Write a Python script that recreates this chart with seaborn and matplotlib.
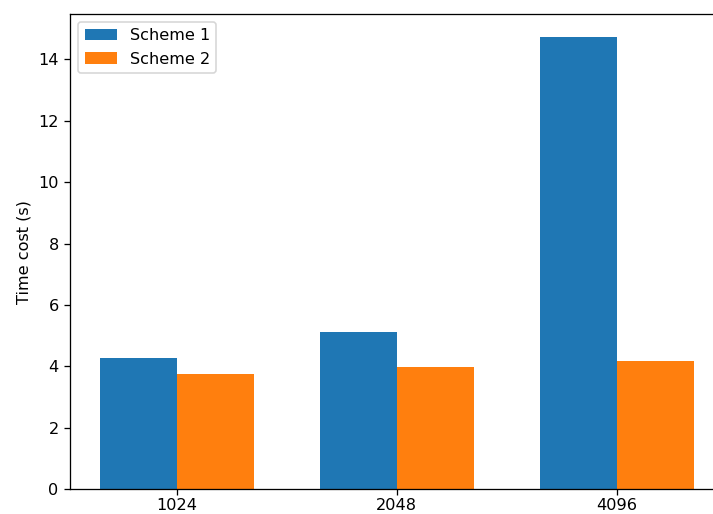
import matplotlib
matplotlib.use("Agg")
import matplotlib.pyplot as plt
import pandas as pd
import seaborn as sns

sizes = ["1024", "2048", "4096"]
scheme1 = [4.27, 5.12, 14.72]
scheme2 = [3.75, 3.98, 4.18]
schemes = ["Scheme 1", "Scheme 2"]

df = pd.DataFrame({
    "size": sizes * 2,
    "time": scheme1 + scheme2,
    "scheme": [schemes[0]] * len(sizes) + [schemes[1]] * len(sizes),
})

DPI = 116
fig = plt.figure(figsize=(713 / DPI, 514 / DPI), dpi=DPI)
ax = fig.add_axes([70 / 713, 24.7 / 514, 653.5 / 713, 475.3 / 514])

sns.barplot(data=df, x="size", y="time", hue="scheme", order=sizes,
            hue_order=schemes, palette=["#1f77b4", "#ff7f0e"],
            width=0.7, saturation=1, linewidth=0, errorbar=None, ax=ax)

ax.set_xlim(-0.485, 2.485)
ax.set_ylim(0, 15.47)
ax.set_xlabel("")
ax.set_ylabel("Time cost (s)")
ax.tick_params(axis="x", pad=2)
ax.legend(loc="upper left")

fig.savefig("out.png", dpi=DPI)
